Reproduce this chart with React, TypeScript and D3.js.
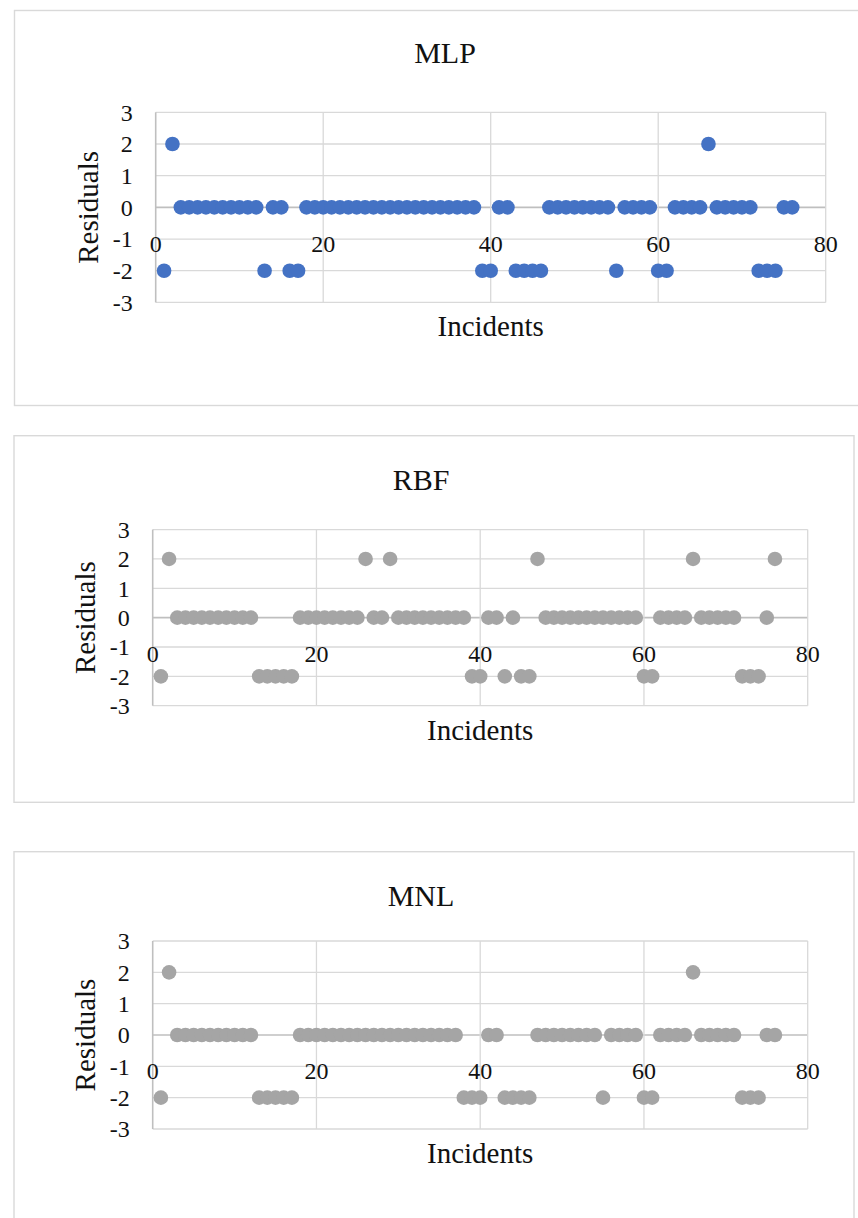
import React from 'react';
import * as d3 from 'd3';

// incident numbers on the x axis
const incidents = [
  1, 2, 3, 4, 5, 6, 7, 8, 9, 10,
  11, 12, 13, 14, 15, 16, 17, 18, 19, 20,
  21, 22, 23, 24, 25, 26, 27, 28, 29, 30,
  31, 32, 33, 34, 35, 36, 37, 38, 39, 40,
  41, 42, 43, 44, 45, 46, 47, 48, 49, 50,
  51, 52, 53, 54, 55, 56, 57, 58, 59, 60,
  61, 62, 63, 64, 65, 66, 67, 68, 69, 70,
  71, 72, 73, 74, 75, 76,
];

const mlpResiduals = [
  -2, 2, 0, 0, 0, 0, 0, 0, 0, 0,
  0, 0, -2, 0, 0, -2, -2, 0, 0, 0,
  0, 0, 0, 0, 0, 0, 0, 0, 0, 0,
  0, 0, 0, 0, 0, 0, 0, 0, -2, -2,
  0, 0, -2, -2, -2, -2, 0, 0, 0, 0,
  0, 0, 0, 0, -2, 0, 0, 0, 0, -2,
  -2, 0, 0, 0, 0, 2, 0, 0, 0, 0,
  0, -2, -2, -2, 0, 0,
];

const rbfResiduals = [
  -2, 2, 0, 0, 0, 0, 0, 0, 0, 0,
  0, 0, -2, -2, -2, -2, -2, 0, 0, 0,
  0, 0, 0, 0, 0, 2, 0, 0, 2, 0,
  0, 0, 0, 0, 0, 0, 0, 0, -2, -2,
  0, 0, -2, 0, -2, -2, 2, 0, 0, 0,
  0, 0, 0, 0, 0, 0, 0, 0, 0, -2,
  -2, 0, 0, 0, 0, 2, 0, 0, 0, 0,
  0, -2, -2, -2, 0, 2,
];

const mnlResiduals = [
  -2, 2, 0, 0, 0, 0, 0, 0, 0, 0,
  0, 0, -2, -2, -2, -2, -2, 0, 0, 0,
  0, 0, 0, 0, 0, 0, 0, 0, 0, 0,
  0, 0, 0, 0, 0, 0, 0, -2, -2, -2,
  0, 0, -2, -2, -2, -2, 0, 0, 0, 0,
  0, 0, 0, 0, -2, 0, 0, 0, 0, -2,
  -2, 0, 0, 0, 0, 2, 0, 0, 0, 0,
  0, -2, -2, -2, 0, 0,
];

const xTicks = [0, 20, 40, 60, 80];
const yTicks = [-3, -2, -1, 0, 1, 2, 3];

const FONT = '"Liberation Serif", "Times New Roman", serif';
const GRID = '#d9d9d9';
const AXIS = '#bfbfbf';

const panels = [
  {
    title: 'MLP', values: mlpResiduals, color: '#4472c4',
    box: { x: 14.5, y: 10.5, w: 870, h: 395 },
    plot: { left: 155.7, right: 825.7, top: 112.3, bottom: 302.4 },
    titleX: 445, titleY: 63,
  },
  {
    title: 'RBF', values: rbfResiduals, color: '#a5a5a5',
    box: { x: 14, y: 435.7, w: 840, h: 366.6 },
    plot: { left: 152.7, right: 807.7, top: 529.6, bottom: 705.7 },
    titleX: 421, titleY: 490,
  },
  {
    title: 'MNL', values: mnlResiduals, color: '#a5a5a5',
    box: { x: 14, y: 851.7, w: 840, h: 400 },
    plot: { left: 152.7, right: 807.7, top: 941, bottom: 1129 },
    titleX: 421, titleY: 906,
  },
];

const Panel = ({ p }) => {
  const x = d3.scaleLinear().domain([0, 80]).range([p.plot.left, p.plot.right]);
  const y = d3.scaleLinear().domain([-3, 3]).range([p.plot.bottom, p.plot.top]);
  const midY = (p.plot.top + p.plot.bottom) / 2;

  return (
    <g>
      <rect x={p.box.x} y={p.box.y} width={p.box.w} height={p.box.h}
        fill="#fff" stroke={GRID} strokeWidth={1.4} />
      <text x={p.titleX} y={p.titleY} textAnchor="middle" fontSize={30}
        fontFamily={FONT} fill="#111">{p.title}</text>

      {/* gridlines */}
      {yTicks.map(t => (
        <line key={'h' + t} x1={x(0)} x2={x(80)} y1={y(t)} y2={y(t)}
          stroke={t === 0 ? AXIS : GRID} strokeWidth={t === 0 ? 1.6 : 1.3} />
      ))}
      {xTicks.map(t => (
        <line key={'v' + t} x1={x(t)} x2={x(t)} y1={y(-3)} y2={y(3)}
          stroke={t === 0 ? AXIS : GRID} strokeWidth={t === 0 ? 1.6 : 1.3} />
      ))}

      {/* tick labels */}
      {yTicks.map(t => (
        <text key={'yl' + t} x={x(0) - 23} y={y(t)} dy="0.35em" textAnchor="end"
          fontSize={24} fontFamily={FONT} fill="#111">{t}</text>
      ))}
      {xTicks.map(t => (
        <text key={'xl' + t} x={x(t)} y={y(0) + 36} dy="0.35em" textAnchor="middle"
          fontSize={24} fontFamily={FONT} fill="#111">{t}</text>
      ))}

      {/* axis titles */}
      <text x={(p.plot.left + p.plot.right) / 2} y={p.plot.bottom + 34} textAnchor="middle"
        fontSize={29} fontFamily={FONT} fill="#111">Incidents</text>
      <text transform={`translate(${p.plot.left - 68},${midY}) rotate(-90)`} dy="0.35em"
        textAnchor="middle" fontSize={29} fontFamily={FONT} fill="#111">Residuals</text>

      {/* points */}
      {incidents.map((n, i) => (
        <circle key={n} cx={x(n)} cy={y(p.values[i])} r={7.3} fill={p.color} />
      ))}
    </g>
  );
};

export default function App() {
  return (
    <svg width={858} height={1218}
      style={{ position: 'absolute', left: 0, top: 0, background: '#fff' }}>
      {panels.map(p => <Panel key={p.title} p={p} />)}
    </svg>
  );
}
